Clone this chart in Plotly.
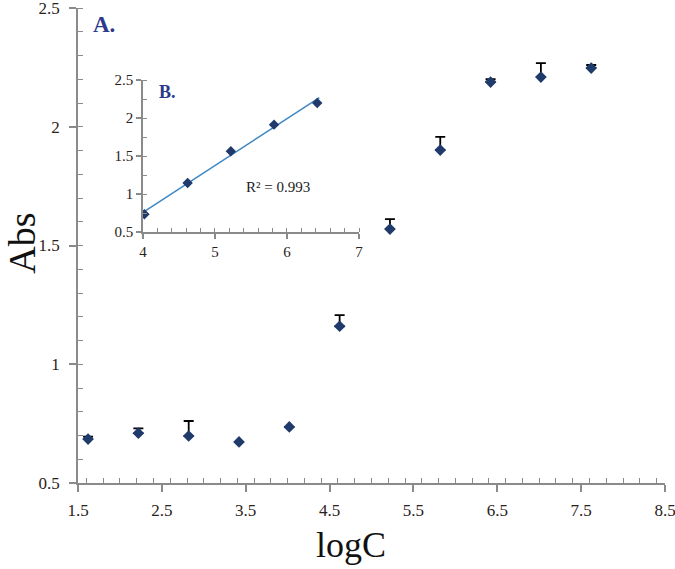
import numpy as np
import plotly.graph_objects as go

# Main panel (A.) data
log_c = [1.62, 2.22, 2.82, 3.42, 4.02, 4.62, 5.22, 5.82, 6.42, 7.02, 7.62]
absorb = [0.685, 0.71, 0.698, 0.673, 0.736, 1.16, 1.569, 1.902, 2.188, 2.209, 2.247]
err_plus = [0.01, 0.02, 0.063, 0.0, 0.0, 0.047, 0.042, 0.055, 0.012, 0.059, 0.013]

# Inset (B.) linear range
inset_x = [4.02, 4.62, 5.22, 5.82, 6.42]
inset_y = [0.736, 1.148, 1.566, 1.915, 2.2]
r2_label = "R² = 0.993"
x_title = "logC"
y_title = "Abs"

slope, intercept = np.polyfit(inset_x, inset_y, 1)
fit_x = [4.0, 6.45]
fit_y = [slope * v + intercept for v in fit_x]

marker_color = "#1f3a6b"
axis_color = "#8a8a8a"
label_color = "#2a2218"
serif = "Liberation Serif, Times New Roman, serif"

fig = go.Figure()
fig.add_trace(go.Scatter(
    x=log_c, y=absorb, mode="markers",
    marker=dict(symbol="diamond", size=9, color=marker_color),
    error_y=dict(type="data", symmetric=False, array=err_plus,
                 arrayminus=[0] * len(err_plus), color="black",
                 thickness=1.8, width=5),
    xaxis="x", yaxis="y", showlegend=False,
))
fig.add_trace(go.Scatter(
    x=fit_x, y=fit_y, mode="lines",
    line=dict(color="#3d87c2", width=1.5),
    xaxis="x2", yaxis="y2", showlegend=False,
))
fig.add_trace(go.Scatter(
    x=inset_x, y=inset_y, mode="markers",
    marker=dict(symbol="diamond", size=8, color=marker_color),
    xaxis="x2", yaxis="y2", showlegend=False,
))

fig.update_layout(
    width=675, height=569,
    margin=dict(l=78, r=10, t=8, b=86, autoexpand=False),
    plot_bgcolor="white", paper_bgcolor="white",
    font=dict(family=serif, color=label_color),
    xaxis=dict(
        domain=[0, 1], range=[1.5, 8.5], tick0=1.5, dtick=1, automargin=False,
        showgrid=False, zeroline=False, showline=True,
        linecolor=axis_color, linewidth=1.5,
        ticks="outside", ticklen=7, tickcolor=axis_color, tickwidth=1.5,
        ticklabelstandoff=4, ticklabeloverflow="allow",
        minor=dict(dtick=0.2, ticks="inside", ticklen=5, tickcolor=axis_color, tickwidth=1),
        tickfont=dict(size=17, family=serif, color=label_color),
    ),
    yaxis=dict(
        domain=[0, 1], range=[0.5, 2.5], tick0=0.5, dtick=0.5, automargin=False,
        showgrid=False, zeroline=False, showline=True,
        linecolor=axis_color, linewidth=1.5,
        ticks="outside", ticklen=7, tickcolor=axis_color, tickwidth=1.5,
        ticklabelstandoff=6, ticklabeloverflow="allow",
        minor=dict(dtick=0.1, ticks="inside", ticklen=5, tickcolor=axis_color, tickwidth=1),
        tickfont=dict(size=17, family=serif, color=label_color),
    ),
    xaxis2=dict(
        domain=[0.1107, 0.4787], anchor="y2", range=[4, 7], dtick=1,
        showgrid=False, zeroline=False, showline=True,
        linecolor=axis_color, linewidth=1.5,
        ticks="outside", ticklen=5, tickcolor=axis_color, tickwidth=1.5,
        minor=dict(dtick=0.2, ticks="inside", ticklen=4, tickcolor=axis_color, tickwidth=1),
        tickfont=dict(size=15, family=serif, color=label_color),
    ),
    yaxis2=dict(
        domain=[0.528, 0.848], anchor="x2", range=[0.5, 2.5], tick0=0.5, dtick=0.5,
        showgrid=False, zeroline=False, showline=True,
        linecolor=axis_color, linewidth=1.5,
        ticks="outside", ticklen=5, tickcolor=axis_color, tickwidth=1.5,
        minor=dict(dtick=0.25, ticks="inside", ticklen=4, tickcolor=axis_color, tickwidth=1),
        tickfont=dict(size=15, family=serif, color=label_color),
    ),
    annotations=[
        dict(text="<b>A.</b>", xref="paper", yref="paper", x=0.022, y=0.995,
             xanchor="left", yanchor="top", showarrow=False,
             font=dict(size=23, family=serif, color="#2b3a8c")),
        dict(text="<b>B.</b>", xref="x2", yref="y2", x=4.2, y=2.5,
             xanchor="left", yanchor="top", showarrow=False,
             font=dict(size=18, family=serif, color="#2b3a8c")),
        dict(text=r2_label, xref="x2", yref="y2", x=5.4, y=1.1,
             xanchor="left", yanchor="middle", showarrow=False,
             font=dict(size=15, family=serif, color="#222")),
        dict(text=x_title, xref="paper", yref="paper", x=0.465, y=-0.13,
             xanchor="center", yanchor="middle", showarrow=False,
             font=dict(size=36, family=serif, color="#111")),
        dict(text=y_title, xref="paper", yref="paper", x=-0.096, y=0.505,
             xanchor="center", yanchor="middle", showarrow=False, textangle=-90,
             font=dict(size=38, family=serif, color="#111")),
    ],
)

fig.write_html("out.html", post_script="document.body.style.margin='0';",
               config={"displayModeBar": False})
